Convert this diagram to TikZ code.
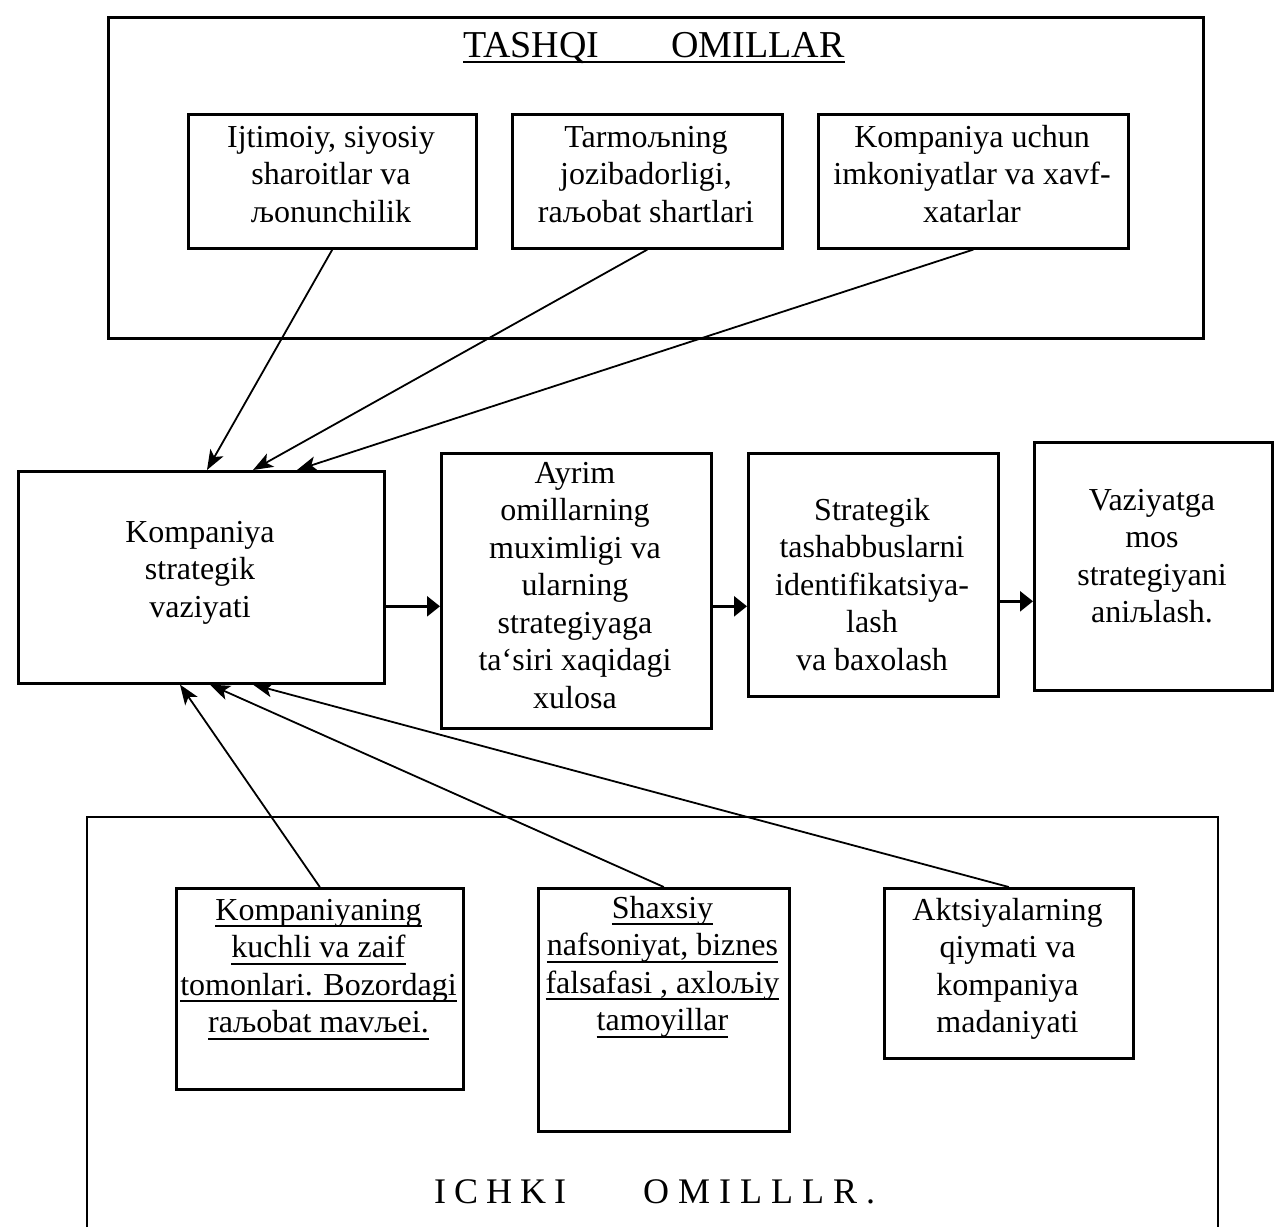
\documentclass[tikz,border=0pt]{standalone}
\usepackage{fontspec}
\setmainfont{Liberation Serif}
\usetikzlibrary{arrows.meta}
\newsavebox\myulbox
\newcommand\myul[1]{\sbox\myulbox{#1}\rlap{\rule[-6.8pt]{\wd\myulbox}{1.8pt}}\usebox\myulbox}
\tikzset{
  box/.style={draw, line width=2.6pt, inner sep=0pt, anchor=north west},
  fbig/.style={font=\fontsize{32}{37.5}\selectfont},
  lbl/.style={align=center, inner sep=0pt, anchor=north},
  sarrow/.style={line width=1.8pt, -{Stealth[length=20pt,width=15pt,inset=5pt]}},
  harrow/.style={line width=2.6pt, -{Triangle[length=13pt,width=20pt]}},
  frame/.style={line width=2.6pt}
}
\begin{document}
\begin{tikzpicture}[x=1pt,y=-1pt]
\useasboundingbox (0,0) rectangle (1274,1227);

% top group
\node[box, minimum width=1095pt, minimum height=321pt] (top) at (107,16) {};
\node[inner sep=0pt, anchor=base west, font=\fontsize{38}{40}\selectfont] (ttl) at (463,57) {TASHQI\hspace{72pt}OMILLAR};
\draw[line width=2pt] ([yshift=-5pt]ttl.base west) -- ([yshift=-5pt]ttl.base east);

\node[box, minimum width=288pt, minimum height=134pt] (t1) at (187,113) {};
\node[box, minimum width=270pt, minimum height=134pt] (t2) at (511,113) {};
\node[box, minimum width=310pt, minimum height=134pt] (t3) at (817,113) {};
\node[lbl, fbig] (t1l) at (331,120.75) {\strut Ijtimoiy, siyosiy\\sharoitlar va\\љonunchilik};
\node[lbl, fbig] (t2l) at (646,120.75) {\strut Tarmoљning\\jozibadorligi,\\raљobat shartlari};
\node[lbl, fbig] (t3l) at (972,120.75) {\strut Kompaniya uchun\\imkoniyatlar va xavf-\\xatarlar};

% middle row
\node[box, minimum width=366pt, minimum height=212pt] (c) at (17,470) {};
\node[lbl, fbig] (cl) at (200,515.75) {\strut Kompaniya\\strategik\\vaziyati};
\node[box, minimum width=270pt, minimum height=275pt] (a) at (440,452) {};
\node[lbl, fbig] (al) at (575,456.75) {\strut Ayrim\\omillarning\\muximligi va\\ularning\\strategiyaga\\ta‘siri xaqidagi\\xulosa};
\node[box, minimum width=250pt, minimum height=243pt] (s) at (747,452) {};
\node[lbl, fbig] (sl) at (872,493.75) {\strut Strategik\\tashabbuslarni\\identifikatsiya-\\lash\\va baxolash};
\node[box, minimum width=238pt, minimum height=248pt] (v) at (1033,441) {};
\node[lbl, fbig] (vl) at (1152,483.75) {\strut Vaziyatga\\mos\\strategiyani\\aniљlash.};

% bottom group
\draw[frame] (87,1227) -- (87,817) -- (1218,817) -- (1218,1227);
\node[box, minimum width=287pt, minimum height=201pt] (b1) at (175,887) {};
\node[lbl, fbig] (b1l) at (318.5,893.75) {\strut\myul{Kompaniyaning}\\\myul{kuchli va zaif}\\\myul{tomonlari. Bozordagi}\\\myul{raљobat mavљei.}};
\node[box, minimum width=251pt, minimum height=243pt] (b2) at (537,887) {};
\node[lbl, fbig] (b2l) at (662.5,891.75) {\strut\myul{Shaxsiy}\\\myul{nafsoniyat, biznes}\\\myul{falsafasi , axloљiy}\\\myul{tamoyillar}};
\node[box, minimum width=249pt, minimum height=170pt] (b3) at (883,887) {};
\node[lbl, fbig] (b3l) at (1007.5,893.75) {\strut Aktsiyalarning\\qiymati va\\kompaniya\\madaniyati};
\node[inner sep=0pt, anchor=base west, font=\fontsize{36}{38}\selectfont] (btl) at (434,1203)
  {I\kern8pt C\kern8pt H\kern8pt K\kern8pt I\hspace{77pt}O\kern9pt M\kern9pt I\kern9pt L\kern9pt L\kern9pt L\kern9pt R\kern9pt .};

% arrows into the central box
\coordinate (c1) at ([xshift=190pt]c.north west);
\coordinate (c2) at ([xshift=236pt]c.north west);
\coordinate (c3) at ([xshift=280pt]c.north west);
\draw[sarrow] (t1.south) -- (c1);
\draw[sarrow] (t2.south) -- (c2);
\draw[sarrow] (t3.south) -- (c3);
\coordinate (d1) at ([xshift=163pt]c.south west);
\coordinate (d2) at ([xshift=193pt]c.south west);
\coordinate (d3) at ([xshift=236pt]c.south west);
\draw[sarrow] (b1.north) -- (d1);
\draw[sarrow] (b2.north) -- (d2);
\draw[sarrow] (b3.north) -- (d3);

% horizontal chain
\coordinate (h1) at ([yshift=-29pt]c.east);
\draw[harrow] (h1) -- (h1 -| a.west);
\coordinate (h2) at (a.east |- h1);
\draw[harrow] (h2) -- (h2 -| s.west);
\coordinate (h3) at ([yshift=-26.5pt]s.east);
\draw[harrow] (h3) -- (h3 -| v.west);
\end{tikzpicture}
\end{document}
